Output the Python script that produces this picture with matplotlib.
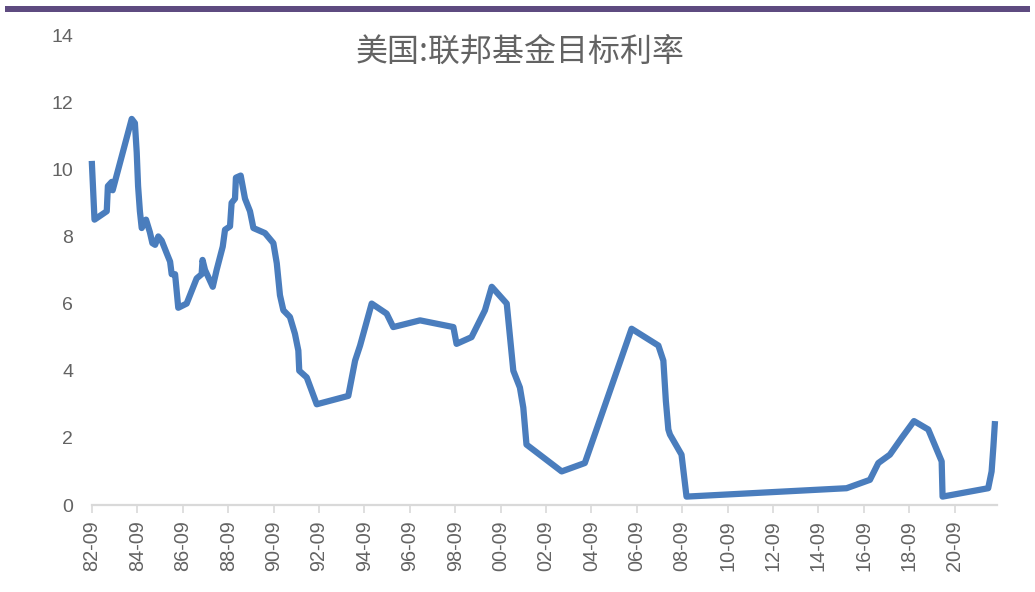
import matplotlib
matplotlib.use("Agg")
import matplotlib.pyplot as plt
from matplotlib.patches import Rectangle

plt.rcParams['font.family'] = ['Noto Sans CJK SC', 'DejaVu Sans']

# Date as fractional year, value in %
dates = [1982.74, 1982.86, 1983.40, 1983.45, 1983.62, 1983.66, 1984.50, 1984.64, 1984.72,
         1984.78, 1984.86, 1984.94, 1985.13, 1985.30, 1985.41, 1985.53, 1985.67, 1985.82,
         1986.04, 1986.19, 1986.26, 1986.41, 1986.55, 1986.92, 1987.36, 1987.58, 1987.62,
         1987.73, 1988.07, 1988.24, 1988.51, 1988.61, 1988.83, 1988.90, 1989.05, 1989.09,
         1989.30, 1989.49, 1989.71, 1989.86, 1990.37, 1990.74, 1990.89, 1991.03, 1991.18,
         1991.47, 1991.69, 1991.84, 1991.88, 1992.21, 1992.65, 1994.04, 1994.34, 1994.56,
         1995.07, 1995.73, 1996.02, 1997.20, 1998.67, 1998.81, 1999.47, 2000.06, 2000.36,
         2001.02, 2001.31, 2001.60, 2001.75, 2001.89, 2003.44, 2004.46, 2006.52, 2007.70,
         2007.92, 2008.03, 2008.14, 2008.21, 2008.72, 2008.94, 2015.99, 2017.02, 2017.39,
         2017.90, 2018.42, 2018.96, 2019.59, 2020.18, 2020.22, 2022.23, 2022.38, 2022.46,
         2022.53]
rates = [10.25, 8.5, 8.75, 9.5, 9.625, 9.375, 11.5, 11.375, 10.5,
         9.5, 8.75, 8.25, 8.5, 8.125, 7.8, 7.75, 8.0, 7.875,
         7.5, 7.25, 6.875, 6.875, 5.875, 6.0, 6.75, 6.875, 7.3,
         7.0, 6.5, 7.0, 7.7, 8.2, 8.3, 9.0, 9.125, 9.75,
         9.8125, 9.125, 8.75, 8.25, 8.1, 7.8, 7.2, 6.25, 5.8,
         5.6, 5.1, 4.6, 4.0, 3.8, 3.0, 3.25, 4.3, 4.75,
         6.0, 5.7, 5.3, 5.5, 5.3, 4.8, 5.0, 5.8, 6.5,
         6.0, 4.0, 3.5, 2.9, 1.8, 1.0, 1.25, 5.25, 4.75,
         4.3, 3.1, 2.25, 2.1, 1.5, 0.25, 0.5, 0.75, 1.25,
         1.5, 2.0, 2.5, 2.25, 1.3, 0.25, 0.5, 1.0, 1.75,
         2.5]

tick_pos = [1982.75 + 2 * k for k in range(20)]
tick_labels = ["82-09", "84-09", "86-09", "88-09", "90-09", "92-09", "94-09", "96-09",
               "98-09", "00-09", "02-09", "04-09", "06-09", "08-09", "10-09", "12-09",
               "14-09", "16-09", "18-09", "20-09"]
y_ticks = [0, 2, 4, 6, 8, 10, 12, 14]
title = "美国:联邦基金目标利率"

W, H = 1035, 592
fig = plt.figure(figsize=(W / 100, H / 100), dpi=100)
fig.patch.set_facecolor('white')

# top purple band
fig.add_artist(Rectangle((5 / W, 1 - 12 / H), 1025 / W, 6.5 / H, transform=fig.transFigure,
                         facecolor='#5e4b80', edgecolor='none'))

left, right = 92 / W, 996.7 / W
bottom, top = 1 - 505 / H, 1 - 35 / H
ax = fig.add_axes([left, bottom, right - left, top - bottom])

ax.plot(dates, rates, color='#4a7dbd', linewidth=4.5, solid_joinstyle='round',
        solid_capstyle='butt', clip_on=False)

ax.set_xlim(1982.75, 1982.75 + (996.7 - 92) / 22.7)
ax.set_ylim(0, 14)

for s in ['top', 'right', 'left']:
    ax.spines[s].set_visible(False)
ax.spines['bottom'].set_color('#d9d9d9')
ax.spines['bottom'].set_linewidth(1.6)

ax.set_xticks(tick_pos)
ax.set_xticklabels(tick_labels, rotation=90, fontsize=14.3, color='#636363',
                   family=['Liberation Sans', 'DejaVu Sans'])
ax.tick_params(axis='x', length=6, width=1.2, color='#d9d9d9', pad=5)

ax.set_yticks(y_ticks)
ax.set_yticklabels([str(v) for v in y_ticks], fontsize=14, color='#636363',
                   family=['Liberation Sans', 'DejaVu Sans'])
ax.tick_params(axis='y', length=0, pad=13.5)

fig.text(520 / W, 1 - 52 / H, title, ha='center', va='center', fontsize=23,
         color='#636363')

fig.savefig('out.png', dpi=100, facecolor='white')
